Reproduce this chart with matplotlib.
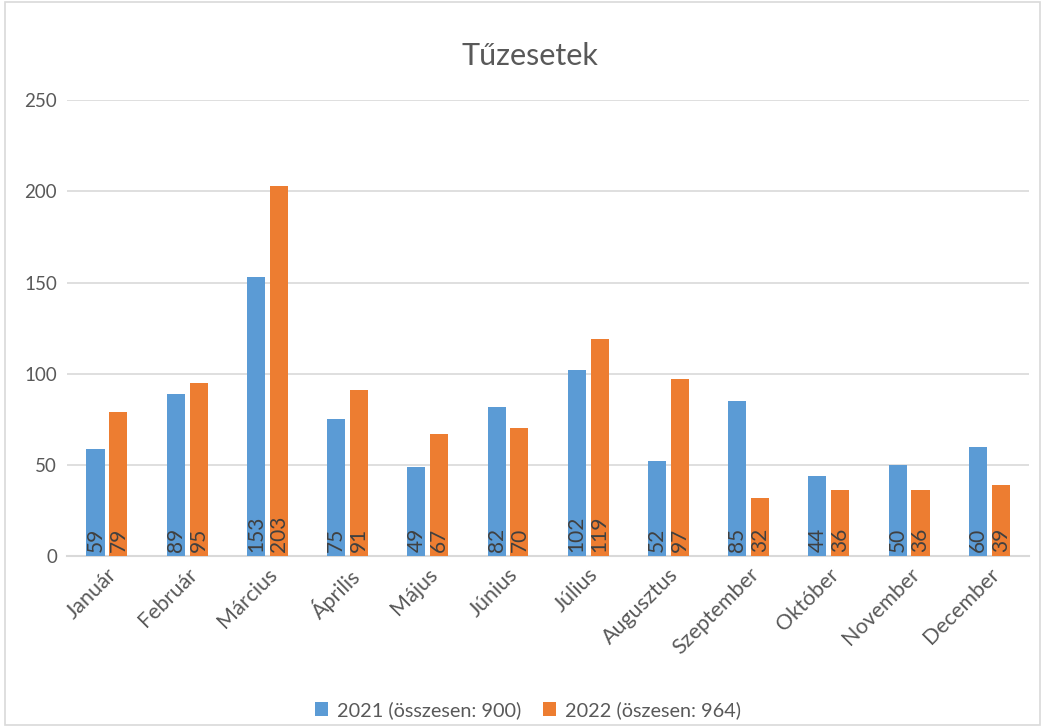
import matplotlib.pyplot as plt
import numpy as np
from matplotlib.patches import Rectangle

honapok = ['Január', 'Február', 'Március', 'Április', 'Május', 'Június',
           'Július', 'Augusztus', 'Szeptember', 'Október', 'November', 'December']
ev2021 = [59, 89, 153, 75, 49, 82, 102, 52, 85, 44, 50, 60]
ev2022 = [79, 95, 203, 91, 67, 70, 119, 97, 32, 36, 36, 39]
cimke2021 = '2021 (összesen: 900)'
cimke2022 = '2022 (öszesen: 964)'

plt.rcParams['font.family'] = ['Lato', 'DejaVu Sans']
szurke = '#595959'

fig = plt.figure(figsize=(10.45, 7.26), dpi=100)
ax = fig.add_axes([0.064, 0.234, 0.921, 0.628])

x = np.arange(len(honapok))
w = 0.225
off = 0.143
b1 = ax.bar(x - off, ev2021, w, color='#5B9BD5', label=cimke2021, zorder=3)
b2 = ax.bar(x + off, ev2022, w, color='#ED7D31', label=cimke2022, zorder=3)

for bars, vals in ((b1, ev2021), (b2, ev2022)):
    for r, v in zip(bars, vals):
        ax.text(r.get_x() + r.get_width() / 2, 2, str(v), rotation=90,
                ha='center', va='bottom', fontsize=15, color='#404040', zorder=4)

ax.set_xlim(-0.5, len(honapok) - 0.5)
ax.set_ylim(0, 250)
ax.set_yticks(range(0, 251, 50))
ax.yaxis.grid(True, color='#D9D9D9', linewidth=1.2, zorder=0)
for s in ['top', 'right', 'left']:
    ax.spines[s].set_visible(False)
ax.spines['bottom'].set_color('#D9D9D9')
ax.spines['bottom'].set_linewidth(1.5)
ax.tick_params(axis='both', length=0, colors=szurke)
ax.tick_params(axis='y', labelsize=13.5, pad=7)
ax.set_xticks(x)
ax.set_xticklabels(honapok, rotation=45, ha='right', rotation_mode='anchor')
ax.tick_params(axis='x', labelsize=15.5, pad=6)

fig.text(0.507, 0.923, 'Tűzesetek', ha='center', va='center', fontsize=22, color=szurke)
fig.legend(loc='center', bbox_to_anchor=(0.505, 0.022), ncol=2, frameon=False,
           fontsize=14.3, labelcolor=szurke, handlelength=0.65, handleheight=0.65,
           columnspacing=1.1, handletextpad=0.45)

fig.patches.append(Rectangle((0.005, 0.002), 0.99, 0.995, transform=fig.transFigure,
                             fill=False, edgecolor='#D9D9D9', linewidth=1.2))

fig.savefig('out.png', dpi=100)
